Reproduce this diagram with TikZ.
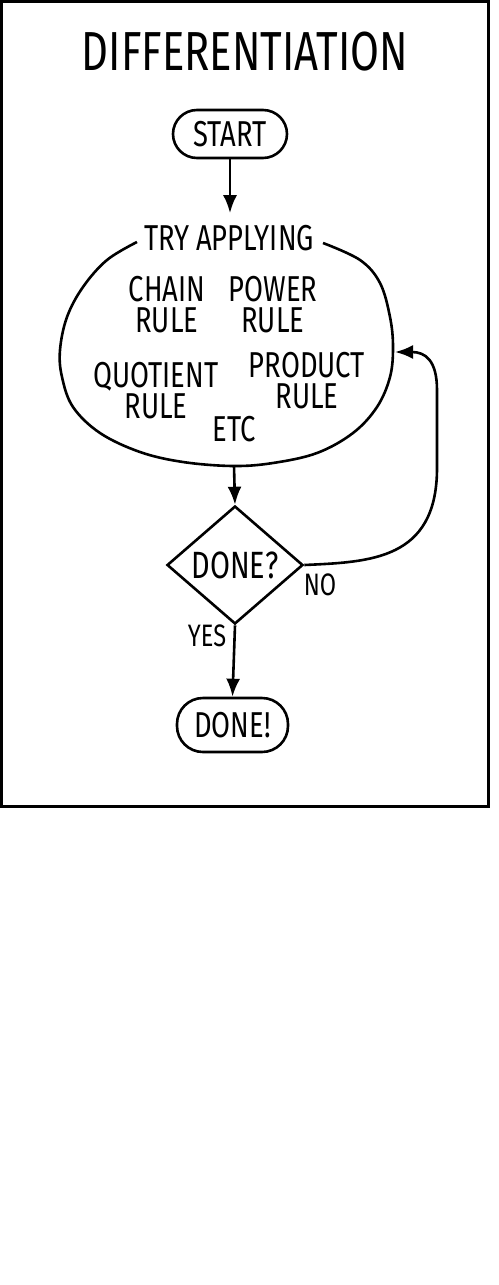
\documentclass[tikz,border=0pt]{standalone}
\usepackage{fontspec}
\setmainfont[FakeStretch=0.76]{Fira Sans}
\usetikzlibrary{arrows.meta,shapes.geometric}
\begin{document}
\begin{tikzpicture}[x=1pt,y=-1pt,line width=2.6pt,
  arr/.style={-{Latex[length=18pt,width=14pt]}},
  lbl/.style={font=\fontsize{36}{31}\selectfont,inner sep=0pt,anchor=south,align=center,text depth=0pt},
  small/.style={font=\fontsize{31}{31}\selectfont,inner sep=0pt,anchor=south,text depth=0pt},
  term/.style={draw,font=\fontsize{36}{31}\selectfont,inner sep=0pt,text height=25pt,text depth=0pt}]
\useasboundingbox (0,0) rectangle (498,1285);
\draw[line width=3pt] (1.5,1.5) rectangle (488,806);
\node[font=\fontsize{55}{55}\selectfont,inner sep=0pt,anchor=south,text depth=0pt] (title) at (245,72) {DIFFERENTIATION};
\node[term,minimum width=114pt,minimum height=48pt,rounded corners=24pt] (start) at (230,134) {START};
\node[lbl] (try) at (229,252) {TRY APPLYING};
\draw plot[smooth,tension=0.6] coordinates {(323,243) (360,260) (380,283) (390,317) (393,347) (390,377) (377,407) (353,433) (317,453) (273,463) (233,466) (183,462) (140,452) (100,433) (73,407) (62,377) (60,350) (67,317) (83,287) (107,260) (137,242)};
\coordinate (blobB) at (234,466);
\coordinate (blobR) at (395,352);
\node[lbl] (chain) at (167,334) {CHAIN\\RULE};
\node[lbl] (power) at (273,334) {POWER\\RULE};
\node[lbl] (quot) at (156,420) {QUOTIENT\\RULE};
\node[lbl] (prod) at (307,410) {PRODUCT\\RULE};
\node[lbl] (etc) at (234,443) {ETC};
\node[draw,diamond,font=\fontsize{38}{38}\selectfont,inner sep=0pt,minimum width=136pt,minimum height=118pt,text height=27pt,text depth=0pt] (dn) at (235,565) {DONE?};
\node[term,minimum width=111pt,minimum height=54pt,rounded corners=26pt] (done) at (232.5,725) {DONE!};
\node[small] (no) at (320,597) {NO};
\node[small] (yes) at (207,648) {YES};
\draw[arr,shorten >=11pt] (start.south) -- (start.south |- try.north);
\draw[arr] (blobB) -- (dn.north);
\draw[arr] (dn.east) .. controls (370,562) and (436,560) .. (437,470) -- (437,390) .. controls (437,360) and (425,352) .. (blobR);
\draw[arr] (dn.south) -- (done.north);
\end{tikzpicture}
\end{document}
